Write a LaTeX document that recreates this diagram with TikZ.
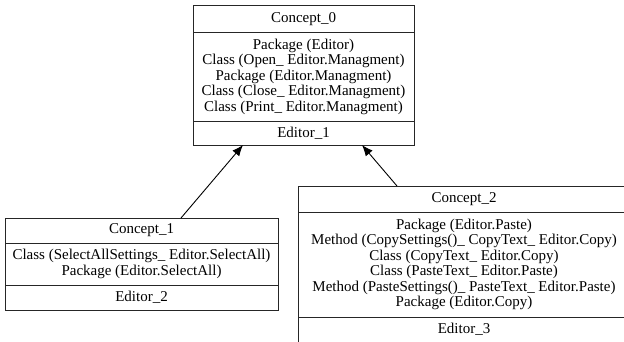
\documentclass[tikz,border=0pt]{standalone}
\usepackage{fontspec}
\setmainfont{Liberation Serif}
\usetikzlibrary{arrows.meta}
\tikzset{
  box/.style={draw=black!85, line width=0.9pt, rectangle, inner sep=0pt, anchor=north west},
  divline/.style={draw=black!85, line width=0.9pt},
  txt/.style={inner sep=0pt, align=center, font=\fontsize{15}{15.5}\selectfont},
  arr/.style={draw=black, line width=0.9pt, -{Latex[length=11pt,width=9pt]}}
}
\begin{document}
\begin{tikzpicture}[x=1pt,y=-1pt]
\useasboundingbox (0,0) rectangle (624,341);
\clip (0,0) rectangle (624,341);
% Concept_0
\node[box, minimum width=221pt, minimum height=140pt] (c0) at (193,5) {};
\draw[divline] (193,32) -- (414,32);
\draw[divline] (193,121) -- (414,121);
\node[txt] (c0h) at (303.5,19) {Concept\_0};
\node[txt] (c0b) at (303.5,76.5) {Package (Editor)\\Class (Open\_ Editor.Managment)\\Package (Editor.Managment)\\Class (Close\_ Editor.Managment)\\Class (Print\_ Editor.Managment)};
\node[txt] (c0f) at (303.5,133) {Editor\_1};
% Concept_1
\node[box, minimum width=273pt, minimum height=92pt] (c1) at (5,218) {};
\draw[divline] (5,243) -- (278,243);
\draw[divline] (5,285) -- (278,285);
\node[txt] (c1h) at (141.5,230.5) {Concept\_1};
\node[txt] (c1b) at (141.5,264) {Class (SelectAllSettings\_ Editor.SelectAll)\\Package (Editor.SelectAll)};
\node[txt] (c1f) at (141.5,297.5) {Editor\_2};
% Concept_2
\node[box, minimum width=334pt, minimum height=170pt] (c2) at (298,186) {};
\draw[divline] (298,212) -- (632,212);
\draw[divline] (298,317.5) -- (632,317.5);
\node[txt] (c2h) at (464,199) {Concept\_2};
\node[txt] (c2b) at (464,264.5) {Package (Editor.Paste)\\Method (CopySettings()\_ CopyText\_ Editor.Copy)\\Class (CopyText\_ Editor.Copy)\\Class (PasteText\_ Editor.Paste)\\Method (PasteSettings()\_ PasteText\_ Editor.Paste)\\Package (Editor.Copy)};
\node[txt] (c2f) at (464,329) {Editor\_3};
% connectors
\coordinate (c1top) at (181,218);
\coordinate (c0in1) at (243,145);
\coordinate (c2top) at (397,186);
\coordinate (c0in2) at (362,145);
\draw[arr] (c1top) -- (c0in1);
\draw[arr] (c2top) -- (c0in2);
\end{tikzpicture}
\end{document}
